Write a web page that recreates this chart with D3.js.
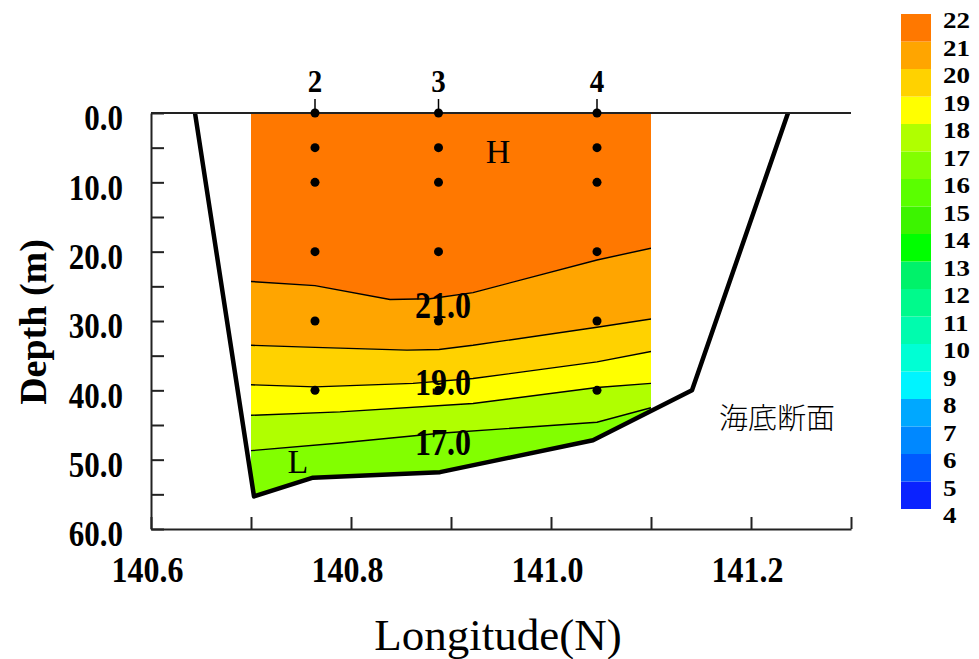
<!DOCTYPE html>
<html>
<head>
<meta charset="utf-8">
<script src="https://cdn.jsdelivr.net/npm/d3@7"></script>
<style>
body { margin: 0; background: #fff; }
svg text { font-family: "Liberation Serif", "Times New Roman", serif; }
</style>
</head>
<body>
<div id="chart"></div>
<script>
// stations along the section
var stationNames = ["2", "3", "4"];
var stationLon = [140.764, 140.8875, 141.046];
var sampleDepths = [0, 5, 10, 20, 30, 40];

// lon range covered by the contouring
var sectionLon = [140.7, 141.1];

// sea bottom profile, [lon, depth]
var seafloor = [[140.644, 0], [140.703, 55.3], [140.762, 52.6], [140.889, 51.8],
                [141.042, 47.2], [141.141, 40.0], [141.237, 0]];

// isotherms, [lon, depth]
var isoLevels = [21, 20, 19, 18, 17];
var iso21 = [[140.7, 24.3], [140.764, 24.9], [140.839, 26.9], [140.879, 26.8], [140.922, 25.9], [141.046, 21.2], [141.1, 19.5]];
var iso20 = [[140.7, 33.5], [140.764, 33.8], [140.856, 34.2], [140.888, 34.1], [140.922, 33.5], [141.046, 30.9], [141.1, 29.7]];
var iso19 = [[140.7, 39.2], [140.764, 39.5], [140.862, 39.0], [140.922, 38.3], [141.046, 35.9], [141.1, 34.4]];
var iso18 = [[140.7, 43.6], [140.789, 43.1], [140.922, 41.9], [141.046, 39.6], [141.1, 39.0]];
var iso17 = [[140.7, 48.7], [140.789, 47.6], [140.889, 46.2], [141.046, 44.6], [141.1, 42.5]];
var isoLines = [iso21, iso20, iso19, iso18, iso17];

// labels on the isotherms
var contourText = ["21.0", "19.0", "17.0"];
var contourLon = [140.892, 140.892, 140.892];
var contourDepth = [27.7, 38.9, 47.5];

// H / L marks
var markText = ["H", "L"];
var markLon = [140.947, 140.747];
var markDepth = [5.6, 50.2];

// axes
var depthTicks = [0, 5, 10, 15, 20, 25, 30, 35, 40, 45, 50, 55, 60];
var depthLabels = [0, 10, 20, 30, 40, 50, 60];
var lonTicks = [140.6, 140.7, 140.8, 140.9, 141.0, 141.1, 141.2, 141.3];
var lonLabels = [140.6, 140.8, 141.0, 141.2];

// colour scale, one colour per 1 degree band starting at 4-5
var legendLevels = [4, 5, 6, 7, 8, 9, 10, 11, 12, 13, 14, 15, 16, 17, 18, 19, 20, 21, 22];
var bandColors = ["#0a22ff", "#005aff", "#0088ff", "#00a8ff", "#00f4ff", "#00ffd4",
                  "#00fcae", "#00fa8c", "#00f26a", "#00ff00", "#3cf400", "#5aff00",
                  "#82ff00", "#b0ff00", "#ffff00", "#ffd200", "#ffa500", "#ff7800"];

var svg = d3.select("#chart").append("svg")
    .attr("width", 979)
    .attr("height", 659);

var x = d3.scaleLinear().domain([140.6, 141.3]).range([151, 851]);
var y = d3.scaleLinear().domain([0, 60]).range([113, 529]);
var c = d3.scaleLinear().domain([4, 22]).range([509, 14]);

var line = d3.line().x(function(d) { return x(d[0]); }).y(function(d) { return y(d[1]); });

function bandColor(v) { return bandColors[v - 4]; }

// clipping: section box and water above the sea bottom
var defs = svg.append("defs");
defs.append("clipPath").attr("id", "clipBox").append("rect")
    .attr("x", x(sectionLon[0]))
    .attr("y", y(0))
    .attr("width", x(sectionLon[1]) - x(sectionLon[0]))
    .attr("height", y(60) - y(0));
defs.append("clipPath").attr("id", "clipSea").append("path")
    .attr("d", line(seafloor) + "Z");

var field = svg.append("g").attr("clip-path", "url(#clipBox)")
    .append("g").attr("clip-path", "url(#clipSea)");

// filled bands between isotherms
var topEdge = [[sectionLon[0], 0], [sectionLon[1], 0]];
var bottomEdge = [[sectionLon[0], 60], [sectionLon[1], 60]];
var bounds = [topEdge].concat(isoLines).concat([bottomEdge]);
var bands = [];
for (var i = 0; i < bounds.length - 1; i++) {
  var lower = i < isoLevels.length ? isoLevels[i] : isoLevels[isoLevels.length - 1] - 1;
  bands.push({ pts: bounds[i].concat(bounds[i + 1].slice().reverse()), level: lower });
}
field.selectAll("path.band")
  .data(bands)
  .enter().append("path")
    .attr("class", "band")
    .attr("d", function(d) { return line(d.pts) + "Z"; })
    .attr("fill", function(d) { return bandColor(d.level); })
    .attr("stroke", function(d) { return bandColor(d.level); })
    .attr("stroke-width", 0.5);

field.selectAll("path.iso")
  .data(isoLines)
  .enter().append("path")
    .attr("class", "iso")
    .attr("d", line)
    .attr("fill", "none")
    .attr("stroke", "#000")
    .attr("stroke-width", 1.4);

// sea bottom
svg.append("path")
    .attr("d", line(seafloor))
    .attr("fill", "none")
    .attr("stroke", "#000")
    .attr("stroke-width", 4.5)
    .attr("stroke-linejoin", "round");

// axes
var yAxis = d3.axisLeft(y)
    .tickValues(depthTicks)
    .tickSize(-13)
    .tickSizeOuter(0)
    .tickFormat(function(d) { return depthLabels.indexOf(d) >= 0 ? d.toFixed(1) : ""; });
var gy = svg.append("g")
    .attr("transform", "translate(" + x(140.6) + ",0)")
    .style("color", "#222")
    .call(yAxis);
gy.selectAll("path, line").attr("stroke-width", 2);
gy.selectAll("text")
    .attr("x", null)
    .attr("dy", "0.34em")
    .attr("transform", "translate(-28,4.5) scale(1,1.17)")
    .style("font-size", "31px")
    .style("font-weight", "bold")
    .style("fill", "#000");

var xAxis = d3.axisBottom(x)
    .tickValues(lonTicks)
    .tickSize(-12)
    .tickSizeOuter(0)
    .tickFormat(function(d) {
      return lonLabels.some(function(v) { return Math.abs(v - d) < 1e-6; }) ? d.toFixed(1) : "";
    });
var gx = svg.append("g")
    .attr("transform", "translate(0," + y(60) + ")")
    .style("color", "#222")
    .call(xAxis);
gx.selectAll("path, line").attr("stroke-width", 2);
gx.selectAll("text")
    .attr("y", null)
    .attr("dy", "0.34em")
    .attr("transform", "translate(-4,41) scale(1,1.12)")
    .style("font-size", "32px")
    .style("font-weight", "bold")
    .style("fill", "#000");

// sea surface line
svg.append("line")
    .attr("x1", x(140.6)).attr("x2", x(141.3))
    .attr("y1", y(0)).attr("y2", y(0))
    .attr("stroke", "#222")
    .attr("stroke-width", 2);

// stations
var st = svg.selectAll("g.station")
  .data(stationLon)
  .enter().append("g")
    .attr("class", "station")
    .attr("transform", function(d) { return "translate(" + x(d) + ",0)"; });
st.append("line")
    .attr("y1", y(0) - 14).attr("y2", y(0))
    .attr("stroke", "#000").attr("stroke-width", 1.5);
st.append("text")
    .attr("text-anchor", "middle")
    .attr("dy", "0.34em")
    .attr("transform", "translate(0," + (y(0) - 32) + ") scale(1,1.12)")
    .style("font-size", "29px")
    .style("font-weight", "bold")
    .text(function(d, i) { return stationNames[i]; });
st.selectAll("circle")
  .data(sampleDepths)
  .enter().append("circle")
    .attr("cy", function(d) { return y(d); })
    .attr("r", 4.5)
    .attr("fill", "#000");

// isotherm labels
svg.selectAll("text.clab")
  .data(contourText)
  .enter().append("text")
    .attr("class", "clab")
    .attr("text-anchor", "middle")
    .attr("dy", "0.34em")
    .attr("transform", function(d, i) {
      return "translate(" + x(contourLon[i]) + "," + y(contourDepth[i]) + ") scale(1,1.17)";
    })
    .style("font-size", "32px")
    .style("font-weight", "bold")
    .text(function(d) { return d; });

svg.selectAll("text.mark")
  .data(markText)
  .enter().append("text")
    .attr("class", "mark")
    .attr("text-anchor", "middle")
    .attr("dy", "0.34em")
    .attr("x", function(d, i) { return x(markLon[i]); })
    .attr("y", function(d, i) { return y(markDepth[i]); })
    .style("font-size", "34px")
    .text(function(d) { return d; });

svg.append("text")
    .attr("x", x(141.226))
    .attr("y", y(44))
    .attr("dy", "0.36em")
    .attr("text-anchor", "middle")
    .style("font-family", "'Noto Sans CJK JP', 'Noto Sans CJK SC', sans-serif")
    .style("font-weight", 300)
    .style("font-size", "29px")
    .text("海底断面");

// axis titles
svg.append("text")
    .attr("transform", "translate(33,322) rotate(-90)")
    .attr("text-anchor", "middle")
    .attr("dy", "0.34em")
    .style("font-size", "38px")
    .style("font-weight", "bold")
    .text("Depth (m)");

svg.append("text")
    .attr("x", 498)
    .attr("y", 635)
    .attr("dy", "0.34em")
    .attr("text-anchor", "middle")
    .style("font-size", "45px")
    .text("Longitude(N)");

// colour bar
var legend = svg.append("g");
legend.selectAll("rect")
  .data(bandColors)
  .enter().append("rect")
    .attr("x", 901)
    .attr("width", 30)
    .attr("y", function(d, i) { return c(legendLevels[i + 1]); })
    .attr("height", function(d, i) { return c(legendLevels[i]) - c(legendLevels[i + 1]); })
    .attr("fill", function(d) { return d; });
legend.selectAll("text")
  .data(legendLevels)
  .enter().append("text")
    .attr("dy", "0.34em")
    .attr("transform", function(d) { return "translate(943," + (c(d) + 6) + ") scale(1.2,1.05)"; })
    .style("font-size", "22.5px")
    .style("font-weight", "bold")
    .text(function(d) { return d; });
</script>
</body>
</html>
